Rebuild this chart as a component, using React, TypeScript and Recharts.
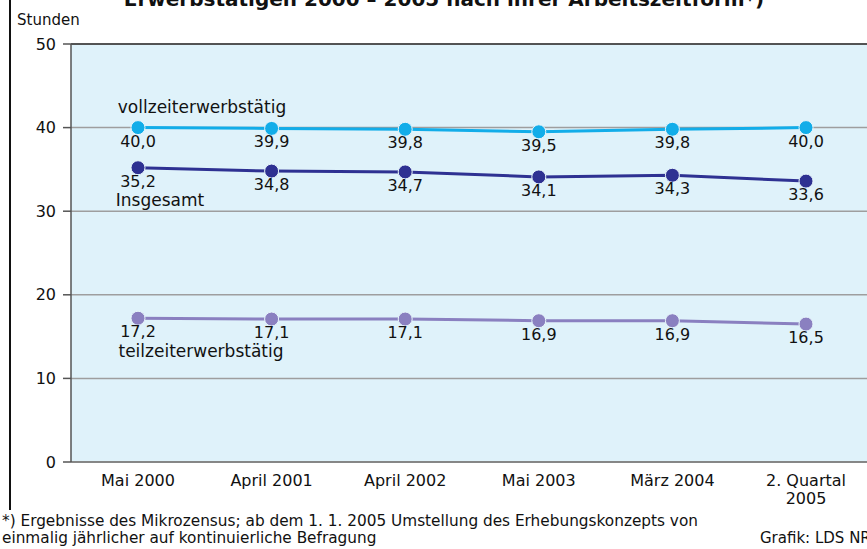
import React from 'react';
import { LineChart, Line, XAxis, YAxis, CartesianGrid, ReferenceLine } from 'recharts';

const categories = ['Mai 2000', 'April 2001', 'April 2002', 'Mai 2003', 'März 2004', '2. Quartal|2005'];
const vollzeit = [40.0, 39.9, 39.8, 39.5, 39.8, 40.0];
const insgesamt = [35.2, 34.8, 34.7, 34.1, 34.3, 33.6];
const teilzeit = [17.2, 17.1, 17.1, 16.9, 16.9, 16.5];
const yTicks = [0, 10, 20, 30, 40, 50];

const seriesNames = {
  vollzeit: 'vollzeiterwerbstätig',
  insgesamt: 'Insgesamt',
  teilzeit: 'teilzeiterwerbstätig',
};

const data = categories.map((c, i) => ({
  cat: c,
  vollzeit: vollzeit[i],
  insgesamt: insgesamt[i],
  teilzeit: teilzeit[i],
}));

const FONT = '"DejaVu Sans", sans-serif';
const fmt = (v: number) => v.toFixed(1).replace('.', ',');

const makeLabel = (name: string, nameDy: number, nameDx: number) => (props: any) => {
  const { x, y, value, index } = props;
  return (
    <g>
      <text x={x} y={y + 19} textAnchor="middle" fontSize={16} fontFamily={FONT} fill="#111">
        {fmt(value)}
      </text>
      {index === 0 && (
        <text x={x + nameDx} y={y + nameDy} textAnchor="middle" fontSize={17} fontFamily={FONT} fill="#111">
          {name}
        </text>
      )}
    </g>
  );
};

const XTick = (props: any) => {
  const { x, y, payload } = props;
  const lines = String(payload.value).split('|');
  return (
    <text x={x} y={y + 16} textAnchor="middle" fontSize={16} fontFamily={FONT} fill="#111">
      {lines.map((l, i) => (
        <tspan key={i} x={x} dy={i === 0 ? 0 : 18}>
          {l}
        </tspan>
      ))}
    </text>
  );
};

const dot = (color: string) => ({ r: 7, fill: color, stroke: '#e8f6fc', strokeWidth: 1 });

export default function App() {
  return (
    <div
      style={{
        position: 'absolute',
        left: 0,
        top: 0,
        width: 867,
        height: 549,
        overflow: 'hidden',
        background: '#fff',
      }}
    >
      <div style={{ position: 'absolute', left: 9, top: 0, width: 2, height: 510, background: '#111' }} />
      <svg style={{ position: 'absolute', left: 0, top: 0 }} width={867} height={549}>
        <text x={444} y={6} textAnchor="middle" fontSize={20} fontWeight="bold" fontFamily={FONT} fill="#111">
          Erwerbstätigen 2000 – 2005 nach ihrer Arbeitszeitform*)
        </text>
        <text x={17} y={25} fontSize={15} fontFamily={FONT} fill="#111">
          Stunden
        </text>
        <text x={2} y={526} fontSize={15.3} fontFamily={FONT} fill="#111">
          *) Ergebnisse des Mikrozensus; ab dem 1. 1. 2005 Umstellung des Erhebungskonzepts von
        </text>
        <text x={2} y={543} fontSize={15.3} fontFamily={FONT} fill="#111">
          einmalig jährlicher auf kontinuierliche Befragung
        </text>
        <text x={760} y={543} fontSize={15} fontFamily={FONT} fill="#111">
          Grafik: LDS NRW
        </text>
      </svg>
      <div style={{ position: 'absolute', left: 0, top: 0 }}>
        <LineChart width={873} height={549} data={data} margin={{ top: 44, right: 0, bottom: 57, left: 0 }}>
          <CartesianGrid
            horizontal
            vertical={false}
            fill="#dff2fa"
            stroke="#9e9e9e"
            strokeWidth={1.5}
          />
          <ReferenceLine y={50} stroke="#333" strokeWidth={1.5} />
          <XAxis
            dataKey="cat"
            tick={<XTick />}
            tickLine={false}
            axisLine={{ stroke: '#777', strokeWidth: 1.5 }}
            interval={0}
            padding={{ left: 67, right: 67 }}
            height={30}
          />
          <YAxis
            domain={[0, 50]}
            ticks={yTicks}
            width={71}
            tickSize={8}
            tickMargin={7}
            axisLine={{ stroke: '#555', strokeWidth: 1.5 }}
            tickLine={{ stroke: '#555', strokeWidth: 1.5 }}
            tick={{ fontSize: 16, fontFamily: FONT, fill: '#111' }}
          />
          <Line
            dataKey="vollzeit"
            stroke="#12ade9"
            strokeWidth={3}
            dot={dot('#12ade9')}
            isAnimationActive={false}
            label={makeLabel(seriesNames.vollzeit, -15, 64)}
          />
          <Line
            dataKey="insgesamt"
            stroke="#2e3192"
            strokeWidth={3}
            dot={dot('#2e3192')}
            isAnimationActive={false}
            label={makeLabel(seriesNames.insgesamt, 38, 22)}
          />
          <Line
            dataKey="teilzeit"
            stroke="#8a80c0"
            strokeWidth={3}
            dot={dot('#8a80c0')}
            isAnimationActive={false}
            label={makeLabel(seriesNames.teilzeit, 39, 63)}
          />
        </LineChart>
      </div>
    </div>
  );
}
